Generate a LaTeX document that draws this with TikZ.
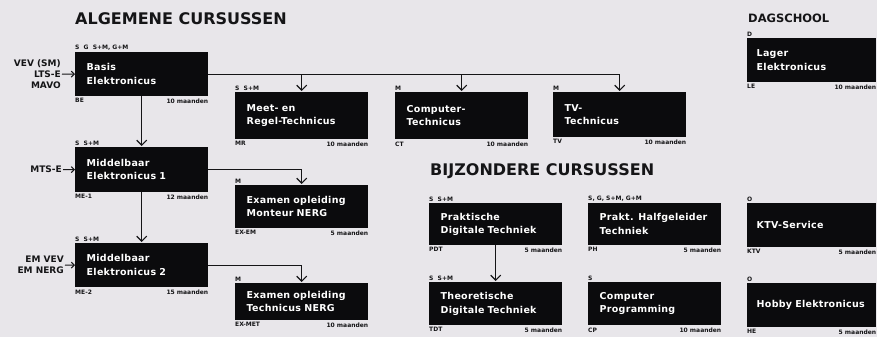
\documentclass[tikz,border=0pt]{standalone}
\usepackage{fontspec}
\setmainfont{DejaVu Sans}
\newfontfamily\boxfont{DejaVu Sans}[LetterSpace=3]
\usetikzlibrary{arrows.meta,positioning}
\definecolor{PaperGray}{HTML}{E8E6EA}
\definecolor{BoxBlack}{HTML}{0B0B0D}
\definecolor{InkBlack}{HTML}{151517}

\begin{document}
\begin{tikzpicture}[
      x=1pt,y=-1pt,
      >={Straight Barb[length=5pt,width=10pt]},
      course/.style={fill=BoxBlack,text=white,anchor=north west,inner xsep=11.5pt,inner ysep=0pt,text width=110pt,align=left,minimum height=44pt,font=\boxfont\bfseries\fontsize{9.5}{13.5}\selectfont},
      wide/.style={text width=110pt,inner xsep=9.5pt},
      title/.style={anchor=west,inner sep=0pt,text=InkBlack,font=\bfseries\fontsize{16}{18}\selectfont},
      tag/.style={inner sep=0pt,text=InkBlack,font=\bfseries\fontsize{6}{7}\selectfont},
      entry/.style={anchor=east,inner sep=1pt,align=right,text=InkBlack,font=\bfseries\fontsize{9}{11}\selectfont},
      arr/.style={->,line width=1.2pt,draw=InkBlack,shorten >=1pt},
      inarr/.style={-{Straight Barb[length=3pt,width=6pt]},line width=1pt,draw=InkBlack}
    ]
      \clip (0,0) rectangle (877,337);
      \fill[PaperGray] (0,0) rectangle (877,337);

      % titles
      \node[title] (algemeen) at (75,19) {ALGEMENE CURSUSSEN};
      \node[title] (bijzonder) at (430,171) {BIJZONDERE CURSUSSEN};
      \node[title,font=\bfseries\fontsize{11.5}{13}\selectfont] (dagschool) at (748,18) {DAGSCHOOL};

      % algemene cursussen
      \node[course] (be) at (75,52) {Basis\\Elektronicus};
      \node[course,minimum height=45pt] (me1) at (75,147) {Middelbaar\\Elektronicus 1};
      \node[course] (me2) at (75,243) {Middelbaar\\Elektronicus 2};
      \node[course,minimum height=47pt] (mr) at (235,92) {Meet- en\\Regel-Technicus};
      \node[course,minimum height=47pt] (ct) at (395,92) {Computer-\\Technicus};
      \node[course,minimum height=45pt] (tv) at (553,92) {TV-\\Technicus};
      \node[course,minimum height=43pt] (exem) at (235,185) {Examen opleiding\\Monteur NERG};
      \node[course,minimum height=37pt] (exmet) at (235,283) {Examen opleiding\\Technicus NERG};

      % bijzondere cursussen
      \node[course,minimum height=42pt] (pdt) at (429,203) {Praktische\\Digitale Techniek};
      \node[course,minimum height=42pt] (ph) at (588,203) {\mbox{Prakt. Halfgeleider}\\Techniek};
      \node[course,minimum height=43pt] (tdt) at (429,282) {Theoretische\\Digitale Techniek};
      \node[course,minimum height=43pt] (cp) at (588,282) {Computer\\Programming};

      % dagschool
      \node[course,wide] (le) at (747,38) {Lager\\Elektronicus};
      \node[course,wide] (ktv) at (747,203) {KTV-Service};
      \node[course,wide] (he) at (747,283) {\mbox{Hobby Elektronicus}};

      % entry requirements
      \node[entry] (be-in) at (62,74) {VEV (SM)\\LTS-E\\MAVO};
      \node[entry] (me1-in) at (63,169.5) {MTS-E};
      \node[entry] (me2-in) at (65,265) {EM VEV\\EM NERG};

      % tags above the boxes
      \node[tag,above right=1.5pt and 0pt of be.north west] (be-t) {S\ \ G\ \ S+M, G+M};
      \node[tag,above right=1.5pt and 0pt of me1.north west] (me1-t) {S\ \ S+M};
      \node[tag,above right=1.5pt and 0pt of me2.north west] (me2-t) {S\ \ S+M};
      \node[tag,above right=1.5pt and 0pt of mr.north west] (mr-t) {S\ \ S+M};
      \node[tag,above right=1.5pt and 0pt of ct.north west] (ct-t) {M};
      \node[tag,above right=1.5pt and 0pt of tv.north west] (tv-t) {M};
      \node[tag,above right=1.5pt and 0pt of exem.north west] (exem-t) {M};
      \node[tag,above right=1.5pt and 0pt of exmet.north west] (exmet-t) {M};
      \node[tag,above right=1.5pt and 0pt of pdt.north west] (pdt-t) {S\ \ S+M};
      \node[tag,above right=1.5pt and 0pt of ph.north west] (ph-t) {S, G, S+M, G+M};
      \node[tag,above right=1.5pt and 0pt of tdt.north west] (tdt-t) {S\ \ S+M};
      \node[tag,above right=1.5pt and 0pt of cp.north west] (cp-t) {S};
      \node[tag,above right=1.5pt and 0pt of le.north west] (le-t) {D};
      \node[tag,above right=1.5pt and 0pt of ktv.north west] (ktv-t) {O};
      \node[tag,above right=1.5pt and 0pt of he.north west] (he-t) {O};

      % codes below the boxes
      \node[tag,below right=2pt and 0pt of be.south west] (be-c) {BE};
      \node[tag,below right=2pt and 0pt of me1.south west] (me1-c) {ME-1};
      \node[tag,below right=2pt and 0pt of me2.south west] (me2-c) {ME-2};
      \node[tag,below right=2pt and 0pt of mr.south west] (mr-c) {MR};
      \node[tag,below right=2pt and 0pt of ct.south west] (ct-c) {CT};
      \node[tag,below right=2pt and 0pt of tv.south west] (tv-c) {TV};
      \node[tag,below right=2pt and 0pt of exem.south west] (exem-c) {EX-EM};
      \node[tag,below right=2pt and 0pt of exmet.south west] (exmet-c) {EX-MET};
      \node[tag,below right=2pt and 0pt of pdt.south west] (pdt-c) {PDT};
      \node[tag,below right=2pt and 0pt of ph.south west] (ph-c) {PH};
      \node[tag,below right=2pt and 0pt of tdt.south west] (tdt-c) {TDT};
      \node[tag,below right=2pt and 0pt of cp.south west] (cp-c) {CP};
      \node[tag,below right=2pt and 0pt of le.south west] (le-c) {LE};
      \node[tag,below right=2pt and 0pt of ktv.south west] (ktv-c) {KTV};
      \node[tag,below right=2pt and 0pt of he.south west] (he-c) {HE};

      % durations
      \node[tag,below left=2pt and 0pt of be.south east] (be-d) {10 maanden};
      \node[tag,below left=2pt and 0pt of me1.south east] (me1-d) {12 maanden};
      \node[tag,below left=2pt and 0pt of me2.south east] (me2-d) {15 maanden};
      \node[tag,below left=2pt and 0pt of mr.south east] (mr-d) {10 maanden};
      \node[tag,below left=2pt and 0pt of ct.south east] (ct-d) {10 maanden};
      \node[tag,below left=2pt and 0pt of tv.south east] (tv-d) {10 maanden};
      \node[tag,below left=2pt and 0pt of exem.south east] (exem-d) {5 maanden};
      \node[tag,below left=2pt and 0pt of exmet.south east] (exmet-d) {10 maanden};
      \node[tag,below left=2pt and 0pt of pdt.south east] (pdt-d) {5 maanden};
      \node[tag,below left=2pt and 0pt of ph.south east] (ph-d) {5 maanden};
      \node[tag,below left=2pt and 0pt of tdt.south east] (tdt-d) {5 maanden};
      \node[tag,below left=2pt and 0pt of cp.south east] (cp-d) {10 maanden};
      \node[tag,below left=2pt and 0pt of le.south east] (le-d) {10 maanden};
      \node[tag,below left=2pt and 0pt of ktv.south east] (ktv-d) {5 maanden};
      \node[tag,below left=2pt and 0pt of he.south east] (he-d) {5 maanden};

      % connections
      \draw[inarr] (be-in.east) -- (be.west);
      \draw[inarr] (me1-in.east) -- (me1.west);
      \draw[inarr] (me2-in.east) -- (me2.west);
      \draw[arr] (be.south) -- (me1.north);
      \draw[arr] (me1.south) -- (me2.north);
      \draw[arr] (be.east) -| (mr.north);
      \draw[arr] (be.east) -| (ct.north);
      \draw[arr] (be.east) -| (tv.north);
      \draw[arr] (me1.east) -| (exem.north);
      \draw[arr] (me2.east) -| (exmet.north);
      \draw[arr] (pdt.south) -- (tdt.north);
    \end{tikzpicture}
\end{document}
